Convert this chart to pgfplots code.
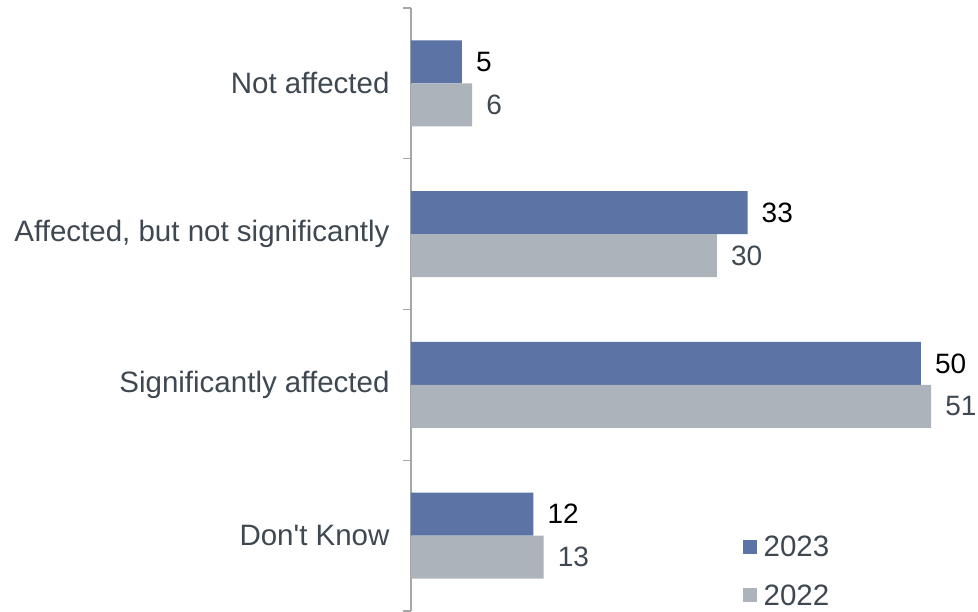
\documentclass[border=0pt]{standalone}
\usepackage{pgfplots}
\usepackage{pgfplotstable}
\pgfplotsset{compat=1.18}
\usepackage{fontspec}
\setmainfont{Liberation Sans}[Ligatures=TeXOff]

\definecolor{bartwentythree}{HTML}{5B73A5}
\definecolor{bartwentytwo}{HTML}{ADB3BA}
\definecolor{labgray}{HTML}{3F4851}
\definecolor{axgray}{HTML}{A6A6A6}

% category index and share (%)
\pgfplotstableread{
idx val
0 5
1 33
2 50
3 12
}\datatwentythree
\pgfplotstableread{
idx val
0 6
1 30
2 51
3 13
}\datatwentytwo

\newcommand{\bigfont}{\fontsize{29.5}{34}\selectfont}
\newcommand{\numfont}{\fontsize{28}{32}\selectfont}

\begin{document}
\begin{tikzpicture}
\begin{axis}[
  scale only axis, width=567pt, height=603pt,
  xmin=0, xmax=55.6,
  ymin=-0.5, ymax=3.5, y dir=reverse,
  clip=false,
  hide x axis,
  axis y line*=left,
  y axis line style={draw=axgray, line width=1.2pt},
  ytick={0,1,2,3},
  yticklabels={Not affected, {Affected, but not significantly}, Significantly affected, Don't Know},
  major tick length=0pt,
  minor ytick={-0.5,0.5,1.5,2.5,3.5},
  minor tick length=8pt,
  tick align=outside,
  minor tick style={draw=axgray, line width=1.2pt},
  yticklabel style={font=\bigfont, text=labgray, xshift=-18pt},
  /pgf/number format/assume math mode=true,
  xbar, bar width=0.285, bar shift=0pt,
  nodes near coords, point meta=x,
  nodes near coords style={font=\numfont, anchor=west, inner sep=0pt, xshift=14pt},
  legend style={at={(axis cs:32.5,2.99)}, anchor=north west, draw=none, fill=none,
    font=\bigfont, text=labgray, row sep=22pt, inner sep=0pt},
  legend cell align=left,
]
\addplot[fill=bartwentythree, draw=none, nodes near coords style={text=black},
  legend image code/.code={\fill[bartwentythree] (0pt,-7pt) rectangle (14pt,7pt);
    \path (19pt,0pt);}]
  table[x=val, y expr=\thisrow{idx}-0.1425] {\datatwentythree};
\addplot[fill=bartwentytwo, draw=none, nodes near coords style={text=labgray},
  legend image code/.code={\fill[bartwentytwo] (0pt,-7pt) rectangle (14pt,7pt);
    \path (19pt,0pt);}]
  table[x=val, y expr=\thisrow{idx}+0.1425] {\datatwentytwo};
\legend{2023,2022}
\coordinate (bl) at (axis description cs:0,0);
\end{axis}
\pgfresetboundingbox
\path[use as bounding box] ([xshift=-411pt]bl) rectangle ([xshift=567pt,yshift=611pt]bl);
\end{tikzpicture}
\end{document}
